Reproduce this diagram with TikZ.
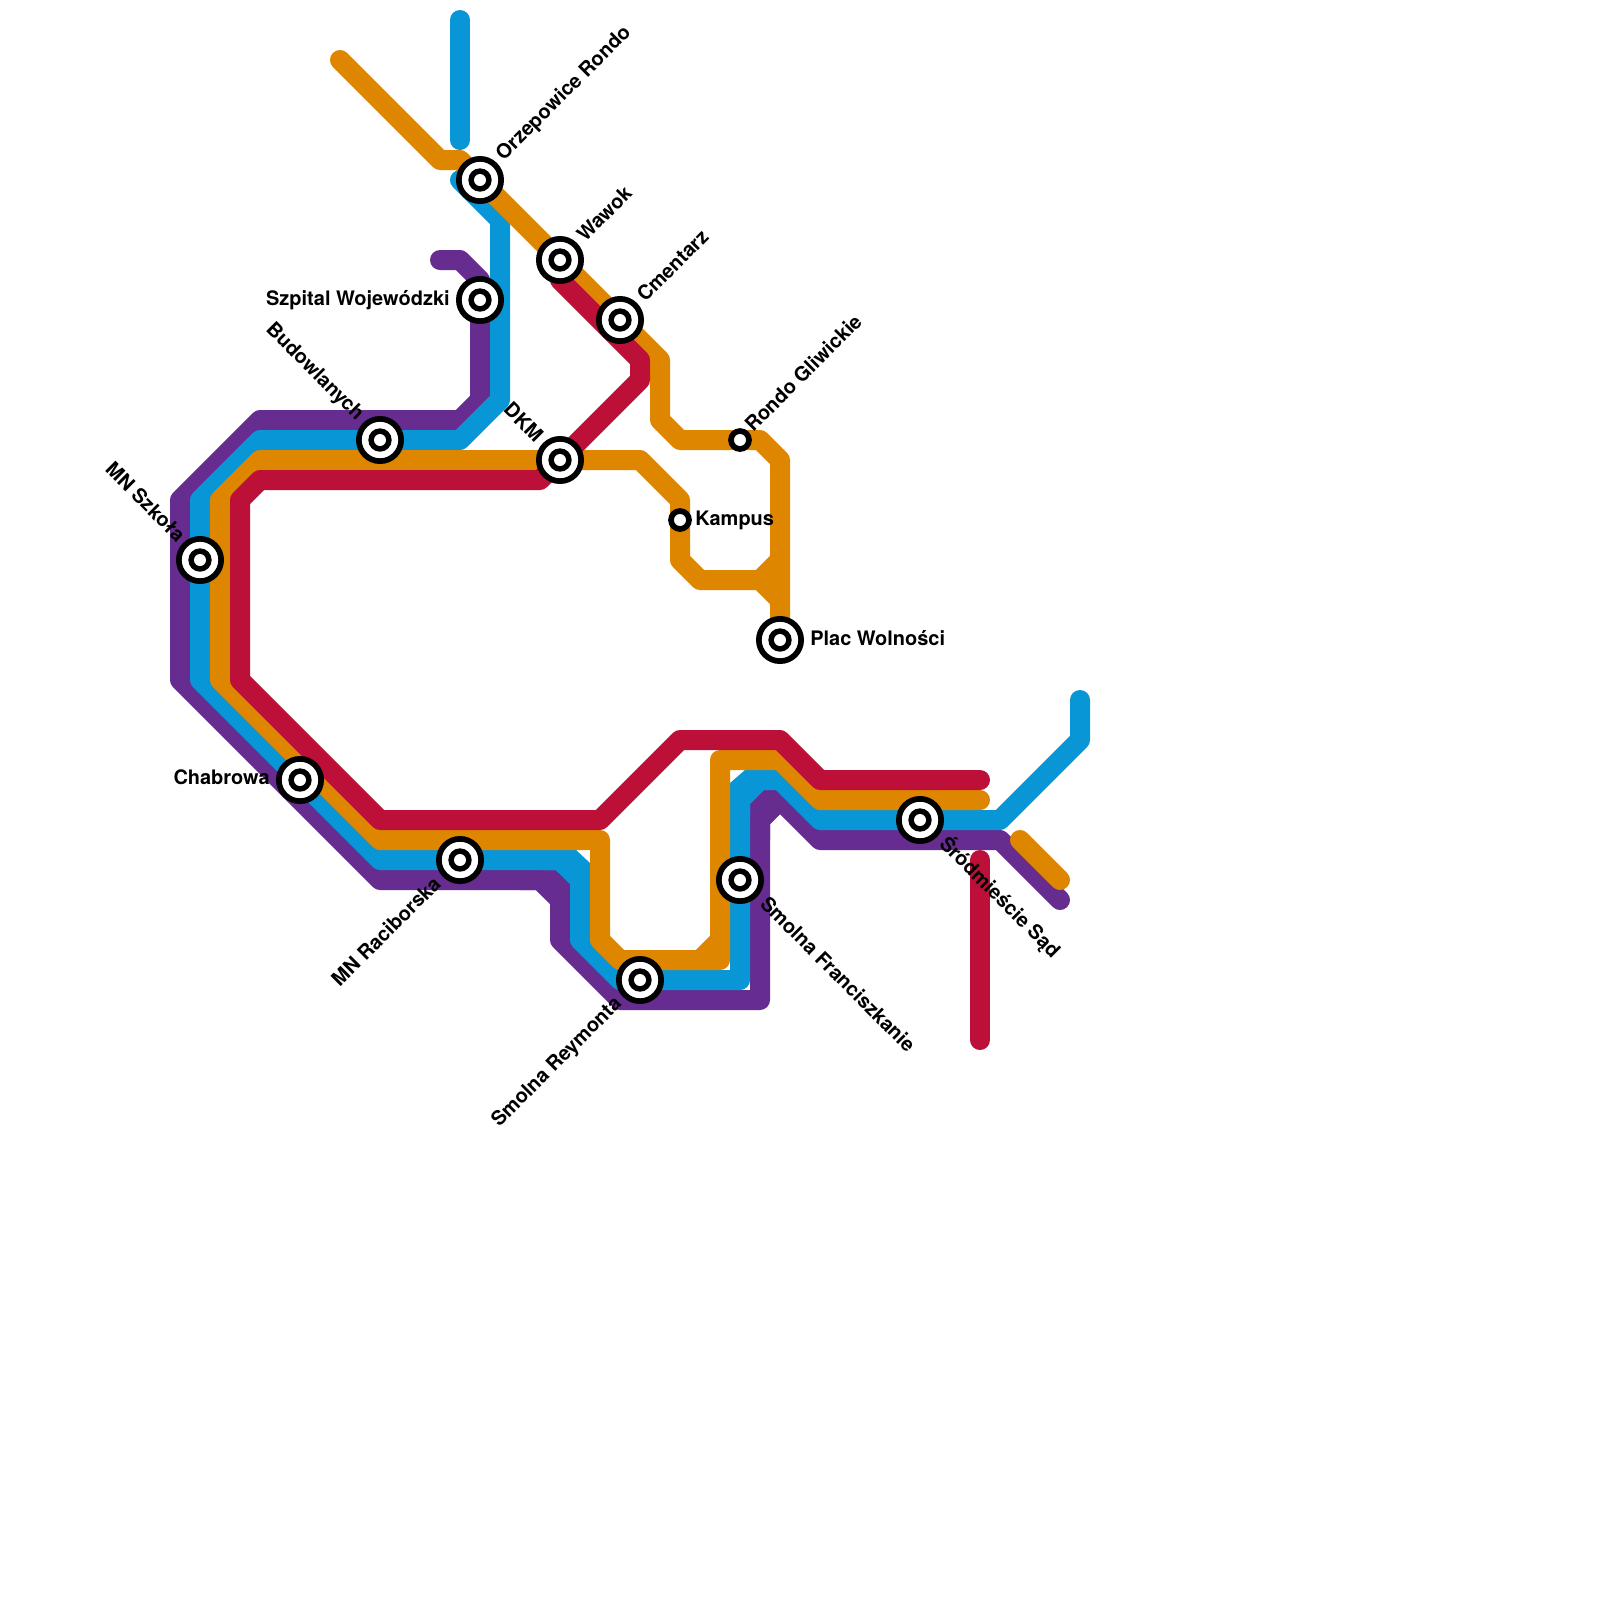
\documentclass[tikz,border=0pt]{standalone}
\usepackage{fontspec}
\usepackage{xcolor}
\setmainfont{TeX Gyre Heros}
\definecolor{linepurple}{HTML}{662C90}
\definecolor{lineblue}{HTML}{0896D7}
\definecolor{lineorange}{HTML}{DF8600}
\definecolor{linered}{HTML}{BD1038}

\begin{document}
\begin{tikzpicture}[x=0.5cm,y=-0.5cm,
  tube/.style={line width=0.5cm,line cap=round,line join=round},
  hub/.style={circle,draw=black,fill=white,line width=0.1425cm,inner sep=0pt,minimum size=1.0575cm,
    path picture={\fill[black] (path picture bounding box.center) circle (0.2925cm);
      \fill[white] (path picture bounding box.center) circle (0.15cm);}},
  halt/.style={circle,draw=black,fill=white,line width=0.1425cm,inner sep=0pt,minimum size=0.45cm},
  signtext/.style={inner sep=0pt,font=\fontsize{14.2}{16}\selectfont\bfseries}]
\useasboundingbox (0,0) rectangle (80,80);
\draw[tube,linepurple] (22,13)--(23,13)--(24,14)--(24,20)--(23,21)--(13,21)--(9,25)--(9,34)--(19,44)--(27,44)--(28,45)--(28,47)--(31,50)--(38,50)--(38,41)--(39,40)--(41,42)--(50,42)--(53,45);
\fill[linepurple] (27,43.5)--(27.8,43.5)--(28.5,44.15)--(28.5,46)--(27.5,46)--(27.5,45.15)--(26.8,44.5)--(26,44.5)--cycle;
\fill[linepurple] (37.5,42)--(37.5,40.15)--(38.15,39.5)--(38.8,39.5)--(39.4,40)--(39,40.7)--(38.5,41.2)--(38.5,42)--cycle;
\draw[tube,lineblue] (23,1)--(23,7);
\draw[tube,lineblue] (23,9)--(25,11)--(25,20)--(23,22)--(13,22)--(10,25)--(10,34)--(19,43)--(28,43)--(29,44)--(29,47)--(31,49)--(37,49)--(37,40)--(38,39)--(39,39)--(41,41)--(50,41)--(54,37)--(54,35);
\fill[lineblue] (27,42.5)--(28.8,42.5)--(29.5,43.15)--(29.5,45)--(28.5,45)--(28.5,44.15)--(27.8,43.5)--(27,43.5)--cycle;
\fill[lineblue] (36.5,41)--(36.5,39.15)--(37.25,38.5)--(38.5,38.5)--(38.5,39.5)--(38.15,39.5)--(37.5,40.15)--(37.5,41)--cycle;
\draw[tube,lineorange] (17,3)--(22,8)--(23,8)--(33,18)--(33,21)--(34,22)--(38,22)--(39,23)--(39,32);
\draw[tube,lineorange] (28,23)--(13,23)--(11,25)--(11,34)--(19,42)--(30,42)--(30,47)--(31,48)--(36,48)--(36,38)--(39,38)--(41,40)--(49,40);
\draw[tube,lineorange] (28,23)--(32,23)--(34,25)--(34,28)--(35,29)--(38,29)--(39,28);
\draw[tube,lineorange] (38,29)--(39,30);
\draw[tube,lineorange] (35,48)--(36,47);
\draw[tube,lineorange] (51,42)--(53,44);
\draw[tube,linered] (28,14)--(32,18)--(32,19)--(28,23)--(27,24)--(13,24)--(12,25)--(12,34)--(19,41)--(30,41)--(34,37)--(39,37)--(41,39)--(49,39);
\draw[tube,linered] (49,43)--(49,52);
\node[hub] (orzepowice) at (24,9) {};
\node[hub] (wawok) at (28,13) {};
\node[hub] (cmentarz) at (31,16) {};
\node[hub] (szpital) at (24,15) {};
\node[hub] (budowlanych) at (19,22) {};
\node[hub] (dkm) at (28,23) {};
\node[halt] (gliwickie) at (37,22) {};
\node[halt] (kampus) at (34,26) {};
\node[hub] (wolnosci) at (39,32) {};
\node[hub] (szkola) at (10,28) {};
\node[hub] (chabrowa) at (15,39) {};
\node[hub] (raciborska) at (23,43) {};
\node[hub] (reymonta) at (32,49) {};
\node[hub] (franciszkanie) at (37,44) {};
\node[hub] (sad) at (46,41) {};
\node[signtext,rotate=45,anchor=west] (orzepowicetext) at (25,7.9) {Orzepowice Rondo};
\node[signtext,rotate=45,anchor=west] (wawoktext) at (29,11.9) {Wawok};
\node[signtext,rotate=45,anchor=west] (cmentarztext) at (32,14.9) {Cmentarz};
\node[signtext,anchor=east] (szpitaltext) at (22.5,15) {Szpital Wojewódzki};
\node[signtext,rotate=-45,anchor=east] (budowlanychtext) at (18,20.9) {Budowlanych};
\node[signtext,rotate=-45,anchor=east] (dkmtext) at (27,21.9) {DKM};
\node[signtext,rotate=45,anchor=west] (gliwickietext) at (37.4,21.4) {Rondo Gliwickie};
\node[signtext,anchor=west] (kampustext) at (34.75,26) {Kampus};
\node[signtext,anchor=west] (wolnoscitext) at (40.5,31.9) {Plac Wolności};
\node[signtext,rotate=-45,anchor=east] (szkolatext) at (9.1,26.9) {MN Szkoła};
\node[signtext,anchor=east] (chabrowatext) at (13.5,38.85) {Chabrowa};
\node[signtext,rotate=45,anchor=east] (raciborskatext) at (21.85,44) {MN Raciborska};
\node[signtext,rotate=45,anchor=east] (reymontatext) at (30.95,50.05) {Smolna Reymonta};
\node[signtext,rotate=-45,anchor=west] (franciszkanietext) at (38.2,45) {Smolna Franciszkanie};
\node[signtext,rotate=-45,anchor=west] (sadtext) at (47.15,42) {Śródmieście Sąd};
\end{tikzpicture}
\end{document}
